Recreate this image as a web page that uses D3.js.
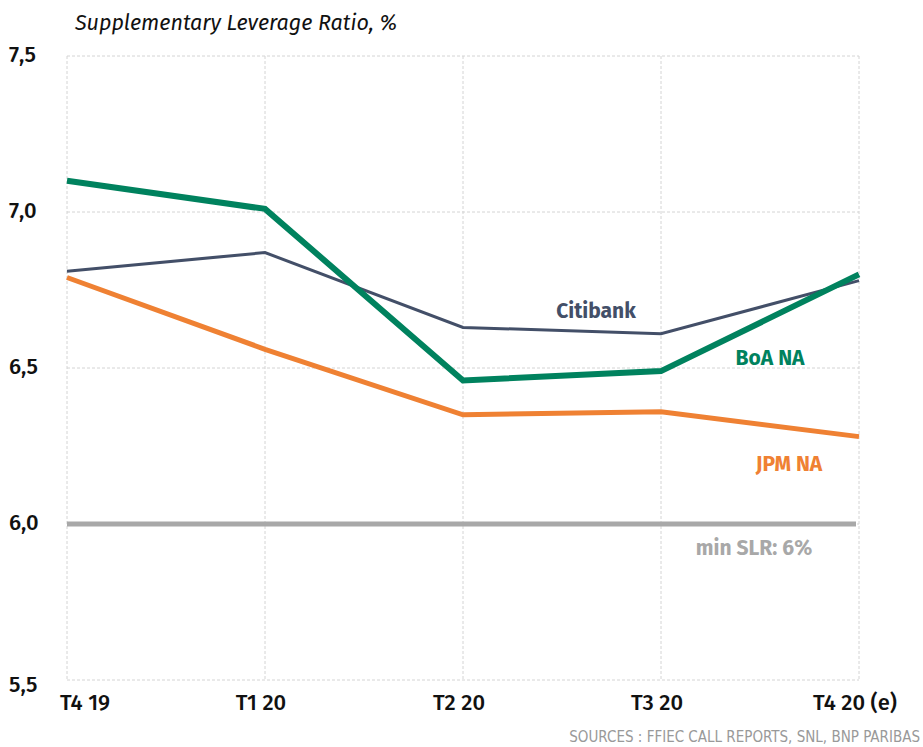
<!DOCTYPE html>
<html>
<head>
<meta charset="utf-8">
<script src="https://cdn.jsdelivr.net/npm/d3@7"></script>
<style>
    body { margin: 0; background: #fff; }
    svg { font-family: "Fira Sans", "Noto Sans", sans-serif; }
</style>
</head>
<body>
<svg id="chart"></svg>
<script>
var width = 923,
    height = 747

// data
var quarters = ["T4 19", "T1 20", "T2 20", "T3 20", "T4 20 (e)"]
var citibank = [6.81, 6.87, 6.63, 6.61, 6.78]
var boa = [7.10, 7.01, 6.46, 6.49, 6.80]
var jpm = [6.79, 6.56, 6.35, 6.36, 6.28]
var minSlr = 6.0
var yTicks = [5.5, 6.0, 6.5, 7.0, 7.5]

var margin = {left: 67, right: 64, top: 56, bottom: 67}

var svg = d3.select("svg#chart")
    .attr("width", width)
    .attr("height", height)

var x = d3.scalePoint()
    .domain(quarters)
    .range([margin.left, width - margin.right])

var y = d3.scaleLinear()
    .domain([5.5, 7.5])
    .range([height - margin.bottom, margin.top])

var fmt = function(d){ return d3.format(".1f")(d).replace(".", ",") }

// grid
svg.append("g").selectAll("line")
    .data(yTicks)
    .enter().append("line")
    .attr("x1", margin.left)
    .attr("x2", width - margin.right)
    .attr("y1", function(d){ return y(d) })
    .attr("y2", function(d){ return y(d) })
    .attr("stroke", "#d4d4d4")
    .attr("stroke-dasharray", "3,2")

svg.append("g").selectAll("line")
    .data(quarters)
    .enter().append("line")
    .attr("x1", function(d){ return x(d) })
    .attr("x2", function(d){ return x(d) })
    .attr("y1", y(7.5))
    .attr("y2", y(5.5))
    .attr("stroke", "#d4d4d4")
    .attr("stroke-dasharray", "3,2")

// y labels
svg.append("g").selectAll("text")
    .data(yTicks)
    .enter().append("text")
    .attr("x", 9)
    .attr("y", function(d){ return y(d) + 6 + (d == 5.5 ? 6 : 0) })
    .attr("font-size", 22)
    .attr("font-weight", 500)
    .attr("fill", "#111")
    .text(fmt)

// x labels
svg.append("g").selectAll("text")
    .data(quarters)
    .enter().append("text")
    .attr("x", function(d, i){ return i == 0 ? x(d) - 7 : x(d) - 4 })
    .attr("y", 710)
    .attr("text-anchor", function(d, i){ return i == 0 ? "start" : "middle" })
    .attr("font-size", 22)
    .attr("font-weight", 500)
    .attr("fill", "#111")
    .text(function(d){ return d })

// min SLR
svg.append("line")
    .attr("x1", margin.left)
    .attr("x2", width - margin.right - 3)
    .attr("y1", y(minSlr))
    .attr("y2", y(minSlr))
    .attr("stroke", "#a8a8a8")
    .attr("stroke-width", 5)

var line = d3.line()
    .x(function(d, i){ return x(quarters[i]) })
    .y(function(d){ return y(d) })

var series = [
    {name: "JPM NA", values: jpm, color: "#ef8133", w: 5},
    {name: "Citibank", values: citibank, color: "#434f68", w: 3},
    {name: "BoA NA", values: boa, color: "#00825e", w: 6}
]

svg.append("g").selectAll("path")
    .data(series)
    .enter().append("path")
    .attr("d", function(d){ return line(d.values) })
    .attr("fill", "none")
    .attr("stroke", function(d){ return d.color })
    .attr("stroke-width", function(d){ return d.w })
    .attr("stroke-linejoin", "miter")

// series labels
var labels = [
    {text: "Citibank", x: 596, y: 318, color: "#434f68"},
    {text: "BoA NA", x: 770, y: 365, color: "#00825e"},
    {text: "JPM NA", x: 789, y: 471, color: "#ef8133"},
    {text: "min SLR: 6%", x: 754, y: 555, color: "#a8a8a8"}
]

svg.append("g").selectAll("text")
    .data(labels)
    .enter().append("text")
    .attr("x", function(d){ return d.x })
    .attr("y", function(d){ return d.y })
    .attr("text-anchor", "middle")
    .attr("font-size", 21)
    .attr("font-weight", "bold")
    .attr("fill", function(d){ return d.color })
    .text(function(d){ return d.text })

svg.append("text")
    .attr("x", 75)
    .attr("y", 30)
    .attr("font-size", 21.5)
    .attr("font-style", "italic")
    .attr("fill", "#111")
    .text("Supplementary Leverage Ratio, %")

svg.append("text")
    .attr("x", 920)
    .attr("y", 742)
    .attr("text-anchor", "end")
    .attr("font-family", "'Liberation Sans Narrow', 'DejaVu Sans Condensed', sans-serif")
    .attr("font-size", 15)
    .attr("fill", "#999")
    .text("SOURCES : FFIEC CALL REPORTS, SNL, BNP PARIBAS")
</script>
</body>
</html>
